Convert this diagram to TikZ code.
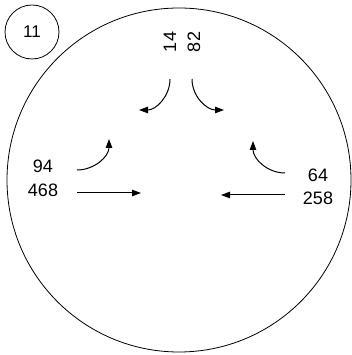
\documentclass[tikz,border=0pt]{standalone}
\usepackage{fontspec}
\setmainfont{Liberation Sans}
\usetikzlibrary{arrows.meta}
\begin{document}
\begin{tikzpicture}[x=1pt,y=1pt,
  lbl/.style={inner sep=0pt,font=\fontsize{18}{18}\selectfont},
  arr/.style={line width=1pt,-{Triangle[length=9pt,width=6.5pt]}},
  ring/.style={draw,line width=0.8pt}]
\useasboundingbox (0,0) rectangle (352,355);
\node[ring,circle,minimum size=344pt,inner sep=0pt] (big) at (179,175) {};
\node[ring,circle,minimum size=54pt,inner sep=0pt,font=\fontsize{17}{17}\selectfont] (n11) at (32,323) {11};
\node[lbl,rotate=90] (t14) at (170,313) {14};
\node[lbl,rotate=90] (t82) at (194,313) {82};
\node[lbl] (t94) at (43,189) {94};
\node[lbl] (t468) at (43,165) {468};
\node[lbl] (t64) at (318,180) {64};
\node[lbl] (t258) at (318,157) {258};
\coordinate (a1s) at (170,276); \coordinate (a1e) at (139,245);
\coordinate (a2s) at (192,276); \coordinate (a2e) at (224,245);
\coordinate (a3s) at (77,185);  \coordinate (a3e) at (109,216);
\coordinate (a4s) at (77,162);  \coordinate (a4e) at (141,162);
\coordinate (a5s) at (285,182); \coordinate (a5e) at (253,214);
\coordinate (a6s) at (285,160); \coordinate (a6e) at (221,160);
\draw[arr] (a1s) to[out=-90,in=0] (a1e);
\draw[arr] (a2s) to[out=-90,in=180] (a2e);
\draw[arr] (a3s) to[out=0,in=-90] (a3e);
\draw[arr] (a4s) -- (a4e);
\draw[arr] (a5s) to[out=180,in=-90] (a5e);
\draw[arr] (a6s) -- (a6e);
\end{tikzpicture}
\end{document}
